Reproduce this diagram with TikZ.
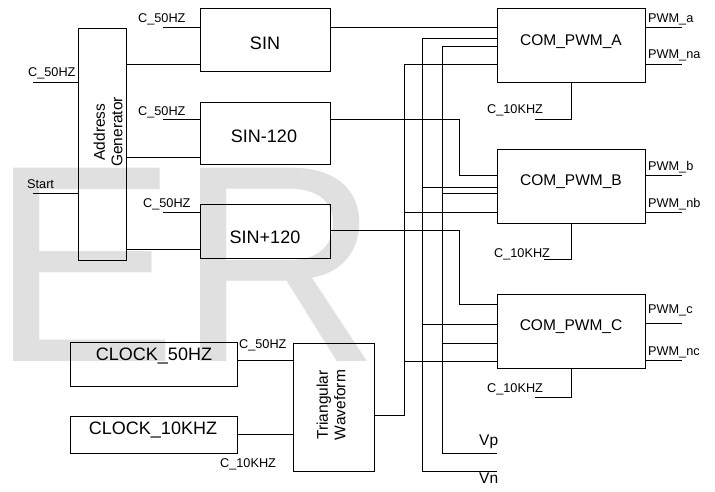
\documentclass[tikz,border=0pt]{standalone}
\usepackage{fontspec}
\setmainfont{Liberation Sans}
\begin{document}
\begin{tikzpicture}[x=1pt,y=-1pt,
  wire/.style={line width=0.8pt},
  blk/.style={draw, line width=0.8pt, inner sep=0pt, anchor=north west},
  small/.style={font=\fontsize{12.7}{14}\selectfont, inner sep=0pt, anchor=base west},
  bigt/.style={font=\fontsize{18}{21}\selectfont, inner sep=0pt, anchor=base},
  midt/.style={font=\fontsize{15.5}{17.5}\selectfont, inner sep=0pt, anchor=base},
  vlab/.style={font=\fontsize{15.5}{17.5}\selectfont, inner sep=0pt, anchor=base west},
  rott/.style={font=\fontsize{15.5}{17.5}\selectfont, inner sep=0pt, rotate=90, align=center},
  wmark/.style={font=\fontsize{281}{281}\selectfont, text=black!12, inner sep=0pt, anchor=base west}
]
\useasboundingbox (0,0) rectangle (715,491);
% watermark
\node[wmark] (wmE) at (12,361) {\kern-22pt E};
\node[wmark] (wmR) at (177,361) {R};
% blocks
\node[blk, minimum width=48pt, minimum height=232pt] (ag) at (78,28) {};
\node[blk, minimum width=130pt, minimum height=63pt] (sin) at (200,8) {};
\node[blk, minimum width=130pt, minimum height=62pt] (sinm) at (200,102) {};
\node[blk, minimum width=130pt, minimum height=54pt] (sinp) at (200,204) {};
\node[blk, minimum width=148pt, minimum height=74pt] (pa) at (497,8) {};
\node[blk, minimum width=148pt, minimum height=74pt] (pb) at (497,149) {};
\node[blk, minimum width=148pt, minimum height=74pt] (pc) at (497,294) {};
\node[blk, minimum width=167pt, minimum height=44pt] (clk50) at (70,342) {};
\node[blk, minimum width=167pt, minimum height=37pt] (clk10) at (70,416) {};
\node[blk, minimum width=81pt, minimum height=128pt] (tri) at (293,343) {};
% block titles
\node[bigt] (tsin) at (265,49) {SIN};
\node[bigt] (tsinm) at (264,142) {SIN-120};
\node[bigt] (tsinp) at (265,243) {SIN+120};
\node[midt] (tpa) at (571,45) {COM\_PWM\_A};
\node[midt] (tpb) at (571,185) {COM\_PWM\_B};
\node[midt] (tpc) at (571,330) {COM\_PWM\_C};
\node[bigt] (tclk50) at (154,360) {CLOCK\_50HZ};
\node[bigt] (tclk10) at (153,434) {CLOCK\_10KHZ};
\node[rott] (tag) at (108,132) {Address\\Generator};
\node[rott] (ttri) at (331,405) {Triangular\\Waveform};
% small labels
\node[small] (l1) at (138,22) {C\_50HZ};
\node[small] (l2) at (138,115) {C\_50HZ};
\node[small] (l3) at (143,207) {C\_50HZ};
\node[small] (l4) at (28,76) {C\_50HZ};
\node[small] (l5) at (27,188) {Start};
\node[small] (l6) at (239,348) {C\_50HZ};
\node[small] (l7) at (220,467) {C\_10KHZ};
\node[small] (pwa) at (648,22) {PWM\_a};
\node[small] (pwna) at (648,58) {PWM\_na};
\node[small] (pwb) at (648,170) {PWM\_b};
\node[small] (pwnb) at (648,207) {PWM\_nb};
\node[small] (pwc) at (648,313) {PWM\_c};
\node[small] (pwnc) at (648,355) {PWM\_nc};
\node[small] (ka) at (487,113) {C\_10KHZ};
\node[small] (kb) at (494,257) {C\_10KHZ};
\node[small] (kc) at (487,392) {C\_10KHZ};
\node[vlab] (vp) at (479,445) {Vp};
\node[vlab] (vn) at (479,483) {Vn};
% free ends and bends
\coordinate (i1) at (163,27);
\coordinate (i2) at (163,119);
\coordinate (i3) at (163,212);
\coordinate (i4) at (33,82);
\coordinate (i5) at (33,193);
\coordinate (rb) at (459,175);
\coordinate (rc) at (459,304);
\coordinate (t404) at (404,64);
\coordinate (vnc) at (422,471);
\coordinate (vnend) at (497,471);
\coordinate (vpc) at (442,453);
\coordinate (vpend) at (497,453);
\coordinate (k1) at (535,119);
\coordinate (k2) at (544,259);
\coordinate (k3) at (535,397);
\coordinate (oa) at (682,27);
\coordinate (ona) at (682,64);
\coordinate (ob) at (682,175);
\coordinate (onb) at (682,212);
\coordinate (oc) at (682,323);
\coordinate (onc) at (682,360);
% inputs
\draw[wire] (i1) -- (i1 -| sin.west);
\draw[wire] (i2) -- (i2 -| sinm.west);
\draw[wire] (i3) -- (i3 -| sinp.west);
\draw[wire] (i4) -- (i4 -| ag.west);
\draw[wire] (i5) -- (i5 -| ag.west);
% address generator to sine tables
\draw[wire] (ag.east |- 0,64) -- (sin.west |- 0,64);
\draw[wire] (ag.east |- 0,157) -- (sinm.west |- 0,157);
\draw[wire] (ag.east |- 0,249) -- (sinp.west |- 0,249);
% sine tables to comparators
\draw[wire] (sin.east |- 0,27) -- (pa.west |- 0,27);
\draw[wire] (sinm.east |- 0,119) -| (rb) -- (rb -| pb.west);
\draw[wire] (sinp.east |- 0,230) -| (rc) -- (rc -| pc.west);
% triangular waveform bus
\draw[wire] (tri.east |- 0,415) -| (t404) -- (t404 -| pa.west);
\draw[wire] (t404 |- 0,212) -- (pb.west |- 0,212);
\draw[wire] (t404 |- 0,361) -- (pc.west |- 0,361);
% Vn bus
\draw[wire] (pa.west |- 0,38) -| (vnc) -- (vnend);
\draw[wire] (vnc |- 0,187) -- (pb.west |- 0,187);
\draw[wire] (vnc |- 0,324) -- (pc.west |- 0,324);
% Vp bus
\draw[wire] (pa.west |- 0,46) -| (vpc) -- (vpend);
\draw[wire] (vpc |- 0,193) -- (pb.west |- 0,193);
\draw[wire] (vpc |- 0,343) -- (pc.west |- 0,343);
% clocks
\draw[wire] (pa.south) |- (k1);
\draw[wire] (pb.south) |- (k2);
\draw[wire] (pc.south) |- (k3);
\draw[wire] (clk50.east |- 0,360) -- (tri.west |- 0,360);
\draw[wire] (clk10.east |- 0,434) -- (tri.west |- 0,434);
% outputs
\draw[wire] (pa.east |- oa) -- (oa);
\draw[wire] (pa.east |- ona) -- (ona);
\draw[wire] (pb.east |- ob) -- (ob);
\draw[wire] (pb.east |- onb) -- (onb);
\draw[wire] (pc.east |- oc) -- (oc);
\draw[wire] (pc.east |- onc) -- (onc);
\end{tikzpicture}
\end{document}
